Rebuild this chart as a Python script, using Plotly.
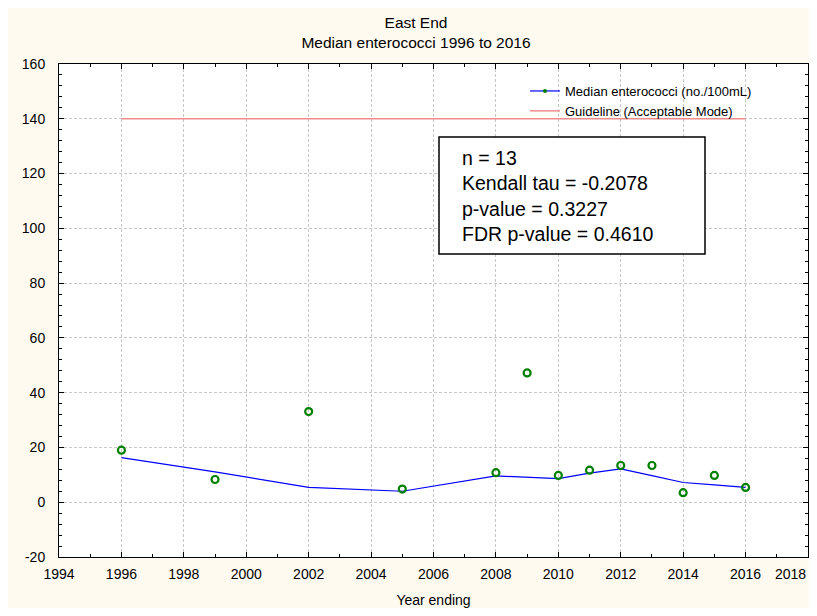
"""East End - median enterococci trend chart"""

import plotly.graph_objects as go

# data
years = [1996, 1999, 2002, 2005, 2008, 2009, 2010, 2011, 2012, 2013, 2014, 2015, 2016]
median_ent = [19.0, 8.3, 33.1, 4.8, 10.8, 47.2, 9.8, 11.7, 13.4, 13.4, 3.5, 9.8, 5.4]
smooth = [16.3, 11.1, 5.4, 4.0, 9.6, 9.2, 8.6, 10.6, 12.2, 9.7, 7.2, 6.3, 5.4]

guide_years = [1996, 2016]
guide_vals = [140, 140]

x_ticks = list(range(1994, 2019, 2))
y_ticks = list(range(-20, 161, 20))
y_ticktext = [str(v) for v in y_ticks]  # plain hyphen minus like the original

stats_lines = ["n = 13", "Kendall tau = -0.2078", "p-value = 0.3227", "FDR p-value = 0.4610"]

FONT = "Liberation Sans, Arial, sans-serif"

# figure sized to fit the window inside the 8px page margin (no scrollbars)
W, H = 801, 600
# plot area in page pixels: x 59..808, y 64..557
PX0, PX1, PY0, PY1 = 59, 808, 64, 557


def px_x(p):
    return (p - PX0) / (PX1 - PX0)


def px_y(p):
    return (PY1 - p) / (PY1 - PY0)


fig = go.Figure()

# smoothed line
fig.add_trace(
    go.Scatter(
        x=years,
        y=smooth,
        mode="lines",
        line=dict(color="#0000FF", width=1.2),
        showlegend=False,
        hoverinfo="skip",
    )
)

# observed medians
fig.add_trace(
    go.Scatter(
        x=years,
        y=median_ent,
        mode="markers",
        marker=dict(symbol="circle-open", color="#008000", size=7, line=dict(width=2.2)),
        showlegend=False,
    )
)

# legend entry (line + dot like the original)
fig.add_trace(
    go.Scatter(
        x=[None],
        y=[None],
        mode="lines+markers",
        name="Median enterococci (no./100mL)",
        line=dict(color="#0000FF", width=1.2),
        marker=dict(color="#008000", size=4),
    )
)

# guideline
fig.add_trace(
    go.Scatter(
        x=guide_years,
        y=guide_vals,
        mode="lines",
        name="Guideline (Acceptable Mode)",
        line=dict(color="#F08C8C", width=1.5),
    )
)

# stats box
fig.add_shape(
    type="rect",
    xref="paper",
    yref="paper",
    x0=px_x(439),
    x1=px_x(705),
    y0=px_y(254),
    y1=px_y(137),
    line=dict(color="black", width=1.5),
    fillcolor="white",
    layer="above",
)
fig.add_annotation(
    xref="paper",
    yref="paper",
    x=px_x(460),
    y=px_y(196),
    xanchor="left",
    yanchor="middle",
    align="left",
    showarrow=False,
    text="<br>".join(stats_lines),
    font=dict(family=FONT, size=19.5, color="black"),
)

# last x label sits at the edge: right-align it so it stays readable
fig.add_annotation(
    x=x_ticks[-1],
    xref="x",
    y=0,
    yref="paper",
    xanchor="right",
    yanchor="top",
    yshift=-7,
    showarrow=False,
    text=str(x_ticks[-1]),
    font=dict(family=FONT, size=14, color="black"),
)

axis_common = dict(
    showline=True,
    linecolor="black",
    linewidth=1,
    mirror="allticks",
    ticks="inside",
    ticklen=5,
    tickcolor="black",
    showgrid=True,
    gridcolor="#C8C8C8",
    griddash="3px,2px",
    gridwidth=1,
    zeroline=False,
    automargin=False,
    tickfont=dict(family=FONT, size=14, color="black"),
)

fig.update_xaxes(
    range=[1994, 2018.0001],
    tickvals=x_ticks,
    ticktext=[str(v) for v in x_ticks[:-1]] + [""],
    minor=dict(dtick=1, tick0=1994, ticks="inside", ticklen=3, tickcolor="black", showgrid=False),
    ticklabelstandoff=4,
    title=dict(text="Year ending", font=dict(family=FONT, size=14, color="black"), standoff=14),
    **axis_common,
)
fig.update_yaxes(
    range=[-20, 160],
    tickvals=y_ticks,
    ticktext=y_ticktext,
    minor=dict(dtick=4, tick0=0, ticks="inside", ticklen=3, tickcolor="black", showgrid=False),
    ticklabelstandoff=10,
    **axis_common,
)

fig.update_layout(
    width=W,
    height=H,
    margin=dict(l=PX0 - 8, r=W - (PX1 - 8), t=PY0 - 8, b=H - (PY1 - 8)),
    paper_bgcolor="#FFFAF0",
    plot_bgcolor="white",
    title=dict(
        text="East End<br>Median enterococci 1996 to 2016",
        x=408 / W,
        xanchor="center",
        xref="container",
        y=1 - 20 / H,
        yanchor="top",
        yref="container",
        font=dict(family=FONT, size=15.5, color="black"),
    ),
    legend=dict(
        x=px_x(525),
        y=px_y(76),
        xanchor="left",
        yanchor="top",
        bgcolor="rgba(0,0,0,0)",
        font=dict(family=FONT, size=13, color="black"),
        tracegroupgap=0,
        itemwidth=30,
    ),
    showlegend=True,
)

fig.write_html("out.html")
